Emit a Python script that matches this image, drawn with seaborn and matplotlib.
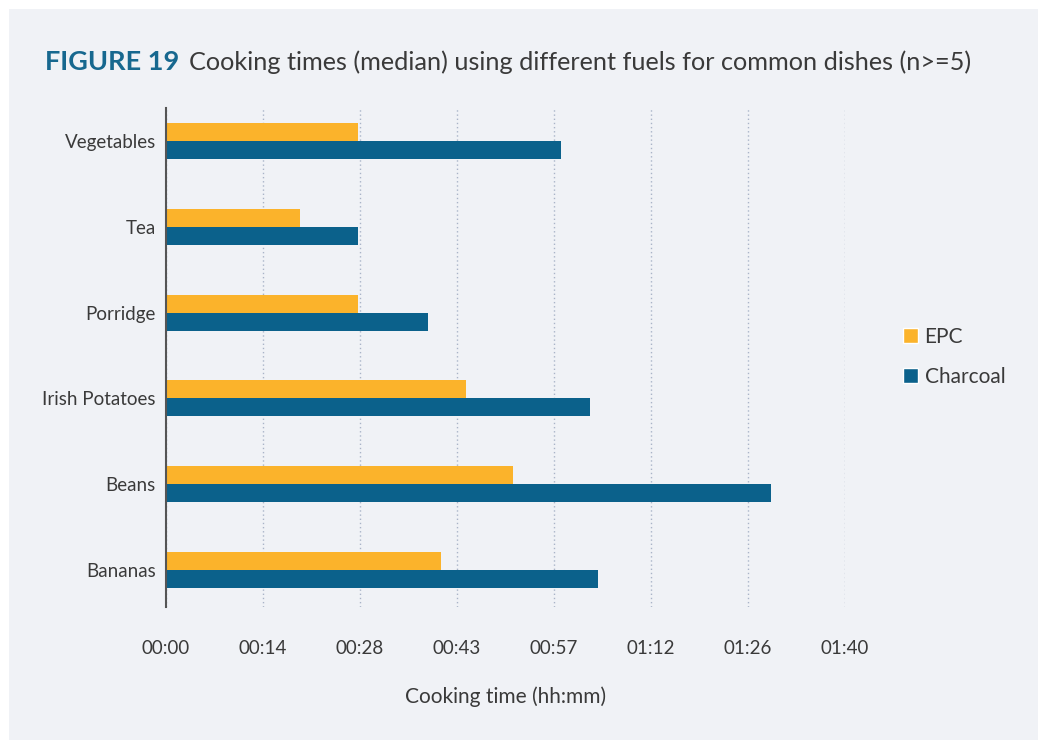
import pandas as pd
import matplotlib.pyplot as plt
import matplotlib.patches as mpatches
import seaborn as sns

# Veri (dakika cinsinden medyan pişirme süreleri)
dishes = ["Vegetables", "Tea", "Porridge", "Irish Potatoes", "Beans", "Bananas"]
epc_minutes = [28.6, 20.0, 28.6, 44.5, 51.6, 40.8]
charcoal_minutes = [58.6, 28.6, 38.9, 63.0, 89.8, 64.2]
fuels = ["EPC", "Charcoal"]
tick_minutes = [0, 14.4, 28.8, 43.2, 57.6, 72.0, 86.4, 100.8]

df = pd.DataFrame({
    "dish": dishes * 2,
    "fuel": ["EPC"] * len(dishes) + ["Charcoal"] * len(dishes),
    "minutes": epc_minutes + charcoal_minutes,
})

bg = "#F0F2F6"
colors = {"EPC": "#FBB32B", "Charcoal": "#0B618B"}
txt = "#3A3A3A"

sns.set_style("white")
plt.rcParams["font.family"] = ["Lato", "DejaVu Sans"]

fig = plt.figure(figsize=(10.38, 7.4), dpi=100)
fig.patch.set_facecolor("white")
fig.patches.append(mpatches.Rectangle((9 / 1038, 0), 1, 1 - 9 / 740, transform=fig.transFigure,
                                      facecolor=bg, edgecolor="none", zorder=-10))

ax = fig.add_axes([165.7 / 1038, 133 / 740, (845 - 165.7) / 1038, (607 - 108) / 740])
ax.set_facecolor(bg)
ax.patch.set_alpha(0)

sns.barplot(data=df, y="dish", x="minutes", hue="fuel", order=dishes, hue_order=fuels,
            palette=colors, orient="h", width=0.42, saturation=1, linewidth=0,
            ax=ax, legend=False)

ax.set_xlim(0, 100.8)
ax.set_ylim(5.43, -0.385)
ax.set_xticks(tick_minutes)
ax.set_xticklabels([f"{int(m) // 60:02d}:{int(m) % 60:02d}" for m in tick_minutes])
ax.grid(axis="x", linestyle=(0, (1, 2)), color="#A9B4C8", linewidth=1)
ax.set_axisbelow(True)
for s in ["top", "right", "bottom"]:
    ax.spines[s].set_visible(False)
ax.spines["left"].set_color("#555555")
ax.spines["left"].set_linewidth(1.5)
ax.tick_params(axis="x", length=0, pad=24, labelsize=13.5, labelcolor=txt)
ax.tick_params(axis="y", length=0, pad=7, labelsize=13.5, labelcolor=txt)
ax.set_ylabel("")
ax.set_xlabel("Cooking time (hh:mm)", fontsize=15, color=txt, labelpad=21)

# Başlık
fig.text(45 / 1038, 1 - 62 / 740, "FIGURE 19", fontsize=19.5, fontweight="bold",
         color="#17688F", va="center", ha="left")
fig.text(189 / 1038, 1 - 62 / 740,
         "Cooking times (median) using different fuels for common dishes (n>=5)",
         fontsize=18.2, color=txt, va="center", ha="left")

handles = [mpatches.Patch(facecolor=colors[f], label=f) for f in fuels]
fig.legend(handles=handles, loc="center left", bbox_to_anchor=(884 / 1038, 1 - 357 / 740),
           frameon=False, fontsize=15, handlelength=0.75, handleheight=0.75,
           handletextpad=0.3, labelspacing=0.95, labelcolor=txt)

plt.savefig("out.png", dpi=100, facecolor=fig.get_facecolor())
